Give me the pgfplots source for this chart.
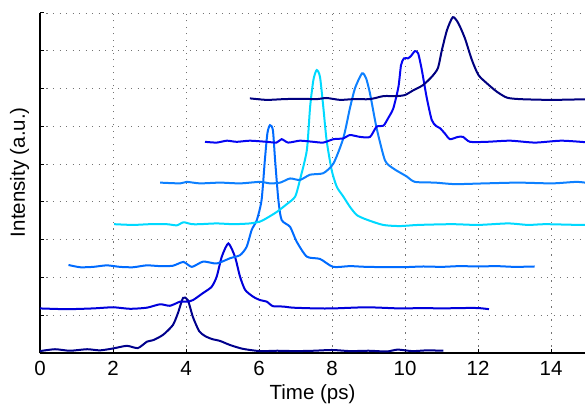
\documentclass[border=0pt]{standalone}
\usepackage{fontspec}
\setmainfont{Liberation Sans}
\usepackage{pgfplots}
\pgfplotsset{compat=1.18}
\definecolor{c1}{rgb}{0.0,0.0,0.55}
\definecolor{c2}{rgb}{0.0,0.0,0.86}
\definecolor{c3}{rgb}{0.0,0.42,1.0}
\definecolor{c4}{rgb}{0.0,0.85,1.0}
\definecolor{c5}{rgb}{0.05,0.5,1.0}
\definecolor{c6}{rgb}{0.02,0.02,0.95}
\definecolor{c7}{rgb}{0.0,0.0,0.5}
\begin{document}
\begin{tikzpicture}
\begin{axis}[
  scale only axis, width=545pt, height=340pt,
  xmin=0, xmax=14.93, ymin=0, ymax=9,
  axis x line*=bottom, axis y line*=left,
  axis line style={line width=1.8pt, -},
  xtick={0,2,...,14}, ytick={0,1,...,9}, yticklabels={},
  tick align=inside, major tick length=4pt, tick style={line width=1pt, black},
  grid=major, major grid style={black!55, line width=0.9pt, dash pattern=on 1.2pt off 5.3pt},
  /pgf/number format/assume math mode=true,
  tick label style={font=\fontsize{20.5}{24}\selectfont},
  xticklabel style={anchor=base, yshift=-22pt},
  xlabel={Time (ps)}, ylabel={Intensity (a.u.)},
  label style={font=\fontsize{20.5}{24}\selectfont},
  xlabel style={at={(axis description cs:0.5,0)}, anchor=base, yshift=-46pt},
  ylabel style={at={(axis description cs:-0.0376,0.532)}, anchor=center},
  every axis plot/.append style={line width=2pt, smooth, tension=0.4, mark=none},
]
\addplot[c1] coordinates {(0,0.05)(0.41,0.10)(0.82,0.06)(1.29,0.10)(1.64,0.07)(2.0,0.12)(2.38,0.19)(2.68,0.13)(2.93,0.30)(3.10,0.34)(3.37,0.48)(3.64,0.74)(3.78,1.06)(3.92,1.46)(4.05,1.40)(4.19,0.95)(4.36,0.58)(4.52,0.45)(4.71,0.37)(4.93,0.32)(5.21,0.21)(5.56,0.11)(6.03,0.05)(6.5,0.06)(7.0,0.05)(7.5,0.06)(8.0,0.08)(8.5,0.05)(9.0,0.06)(9.5,0.04)(9.8,0.09)(10.2,0.05)(10.6,0.07)(11.05,0.06)};
\addplot[c2] coordinates {(0,1.18)(0.73,1.16)(1.45,1.18)(2.0,1.21)(2.47,1.17)(2.93,1.20)(3.29,1.29)(3.56,1.25)(3.84,1.36)(4.03,1.36)(4.19,1.40)(4.47,1.59)(4.70,1.75)(4.84,2.02)(4.98,2.55)(5.16,2.90)(5.34,2.55)(5.48,2.02)(5.62,1.67)(5.84,1.49)(6.03,1.40)(6.21,1.36)(6.38,1.24)(6.66,1.23)(6.93,1.20)(7.58,1.18)(8.03,1.18)(8.95,1.21)(9.86,1.18)(10.5,1.19)(11.0,1.18)(11.5,1.19)(12.0,1.19)(12.3,1.16)};
\addplot[c3] coordinates {(0.78,2.33)(1.10,2.27)(1.46,2.28)(1.83,2.32)(2.19,2.28)(2.55,2.27)(2.92,2.32)(3.29,2.30)(3.64,2.31)(3.93,2.41)(4.16,2.28)(4.47,2.42)(4.84,2.37)(5.21,2.51)(5.48,2.59)(5.66,2.81)(5.80,3.26)(5.94,3.52)(6.07,4.05)(6.16,5.11)(6.23,5.82)(6.30,6.03)(6.38,5.90)(6.44,5.11)(6.53,4.05)(6.62,3.52)(6.85,3.34)(7.03,2.95)(7.31,2.55)(7.67,2.49)(8.03,2.28)(8.49,2.30)(8.95,2.28)(9.86,2.27)(10.5,2.29)(11.0,2.28)(11.5,2.30)(12.0,2.29)(12.5,2.30)(13.0,2.28)(13.55,2.29)};
\addplot[c4] coordinates {(2.03,3.41)(2.55,3.39)(3.01,3.41)(3.47,3.41)(3.75,3.38)(3.93,3.46)(4.16,3.41)(4.38,3.41)(4.84,3.43)(5.30,3.41)(5.75,3.43)(6.03,3.48)(6.21,3.57)(6.48,3.73)(6.76,3.94)(6.99,4.14)(7.12,4.58)(7.31,5.37)(7.40,6.52)(7.49,7.23)(7.58,7.49)(7.67,7.31)(7.76,6.52)(7.85,5.64)(7.99,4.84)(8.13,4.40)(8.31,4.14)(8.49,3.87)(8.68,3.65)(8.95,3.53)(9.40,3.39)(9.86,3.36)(10.36,3.39)(11.29,3.41)(12.0,3.39)(12.82,3.43)(13.37,3.39)(13.84,3.41)(14.79,3.39)(15.07,3.40)};
\addplot[c5] coordinates {(3.29,4.51)(3.84,4.49)(4.02,4.53)(4.38,4.49)(4.93,4.51)(5.48,4.49)(6.03,4.53)(6.30,4.49)(6.58,4.51)(6.85,4.62)(7.12,4.58)(7.40,4.72)(7.76,4.76)(8.04,5.02)(8.31,5.69)(8.49,6.48)(8.63,7.01)(8.82,7.40)(8.93,7.28)(9.04,6.87)(9.22,5.96)(9.45,5.10)(9.67,4.89)(9.82,4.80)(10.05,4.67)(10.27,4.53)(10.82,4.51)(11.37,4.47)(12.19,4.49)(13.10,4.51)(14.03,4.49)(14.71,4.53)(15.07,4.49)};
\addplot[c6] coordinates {(4.52,5.59)(4.84,5.57)(5.12,5.62)(5.39,5.59)(5.75,5.62)(6.21,5.59)(6.48,5.57)(6.62,5.66)(6.80,5.57)(7.12,5.62)(7.49,5.59)(7.76,5.57)(8.04,5.66)(8.31,5.68)(8.49,5.77)(8.77,5.72)(9.04,5.72)(9.22,5.99)(9.41,6.02)(9.54,6.22)(9.68,6.48)(9.82,7.05)(9.89,7.62)(9.97,7.80)(10.08,7.80)(10.16,7.86)(10.27,7.99)(10.36,7.93)(10.46,7.49)(10.59,6.78)(10.73,6.17)(10.85,6.01)(10.96,5.95)(11.10,5.80)(11.23,5.66)(11.45,5.72)(11.59,5.72)(11.78,5.59)(12.24,5.59)(12.88,5.62)(13.56,5.57)(14.29,5.62)(15.07,5.57)};
\addplot[c7] coordinates {(5.75,6.74)(6.21,6.70)(6.67,6.72)(7.12,6.73)(7.58,6.72)(7.85,6.75)(8.22,6.70)(8.58,6.72)(9.04,6.72)(9.41,6.80)(9.77,6.80)(10.0,6.83)(10.22,6.95)(10.49,7.09)(10.73,7.31)(10.90,7.54)(11.01,8.02)(11.15,8.55)(11.31,8.89)(11.46,8.73)(11.64,8.33)(11.83,7.76)(12.01,7.36)(12.24,7.14)(12.51,6.92)(12.79,6.76)(13.15,6.72)(14.02,6.70)(15.07,6.72)};
\end{axis}
\pgfresetboundingbox
\path[use as bounding box] (current axis.south west) ++(-40pt,-51pt) rectangle ++(585pt,404pt);
\end{tikzpicture}
\end{document}
